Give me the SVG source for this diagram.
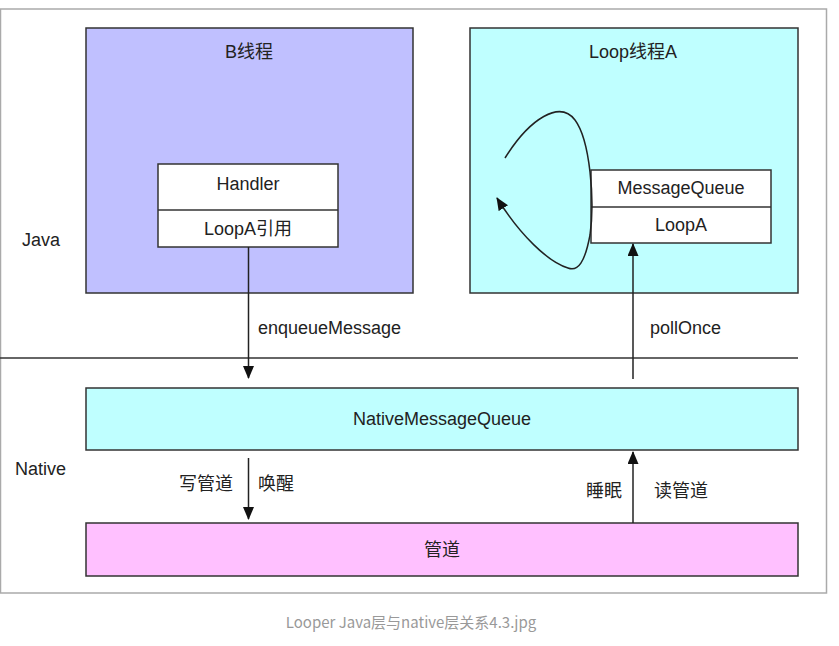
<svg xmlns="http://www.w3.org/2000/svg" width="839" height="646" viewBox="0 0 839 646">
<style>
.t{font-family:"Liberation Sans","Noto Sans CJK SC",sans-serif;font-size:18px;fill:#222}
.c{text-anchor:middle}
.box{stroke:#333;stroke-width:1.5}
.ln{stroke:#222;stroke-width:1.5;fill:none}
</style>
<defs>
<marker id="ah" markerWidth="13" markerHeight="11" refX="12" refY="5.5" orient="auto" markerUnits="userSpaceOnUse" viewBox="0 0 13 11">
<path d="M0,0 L13,5.5 L0,11 Z" fill="#111"/>
</marker>
</defs>
<rect width="839" height="646" fill="#fff"/>
<rect x="0.5" y="9" width="826" height="584" fill="#fff" stroke="#aaa" stroke-width="1.5"/>
<line x1="0" y1="358" x2="798" y2="358" stroke="#333" stroke-width="1.5"/>
<text class="t" x="22" y="246">Java</text>
<text class="t" x="15" y="475">Native</text>

<g id="threadB">
<rect class="box" x="86" y="28" width="327" height="265" fill="#c0c0ff"/>
<text class="t c" x="249" y="58">B线程</text>
</g>
<g id="handler">
<rect class="box" x="158" y="164" width="180" height="83" fill="#fff"/>
<line class="box" x1="158" y1="210" x2="338" y2="210"/>
<text class="t c" x="248" y="190">Handler</text>
<text class="t c" x="248" y="235">LoopA引用</text>
</g>
<g id="threadA">
<rect class="box" x="470" y="28" width="328" height="265" fill="#bfffff"/>
<text class="t c" x="633" y="58">Loop线程A</text>
</g>
<g id="messageQueue">
<rect class="box" x="591" y="170" width="180" height="73" fill="#fff"/>
<line class="box" x1="591" y1="207" x2="771" y2="207"/>
<text class="t c" x="681" y="194">MessageQueue</text>
<text class="t c" x="681" y="231">LoopA</text>
</g>
<g id="nativeMQ">
<rect class="box" x="86" y="388" width="712" height="62" fill="#bfffff"/>
<text class="t c" x="442" y="425">NativeMessageQueue</text>
</g>
<g id="pipe">
<rect class="box" x="86" y="523" width="712" height="53" fill="#ffc0ff"/>
<text class="t c" x="442" y="556">管道</text>
</g>

<g id="connectors">
<path class="ln" d="M505,158 C530,118 560,100 575,120 C590,140 595,200 590,235 C585,262 578,272 568,268 C548,262 520,235 497,198" marker-end="url(#ah)"/>
<line class="ln" x1="248.5" y1="247" x2="248.5" y2="378" marker-end="url(#ah)"/>
<line class="ln" x1="633" y1="379" x2="633" y2="244" marker-end="url(#ah)"/>
<line class="ln" x1="248.5" y1="458" x2="248.5" y2="519" marker-end="url(#ah)"/>
<line class="ln" x1="633" y1="523" x2="633" y2="452" marker-end="url(#ah)"/>
<text class="t" x="258" y="334">enqueueMessage</text>
<text class="t" x="650" y="334">pollOnce</text>
<text class="t" x="233" y="490" text-anchor="end">写管道</text>
<text class="t" x="258" y="490">唤醒</text>
<text class="t" x="622" y="497" text-anchor="end">睡眠</text>
<text class="t" x="654" y="497">读管道</text>
</g>
<text x="411" y="628" text-anchor="middle" style="font-family:'Noto Sans CJK SC','Liberation Sans',sans-serif;font-size:15px;fill:#999">Looper Java层与native层关系4.3.jpg</text>
</svg>
